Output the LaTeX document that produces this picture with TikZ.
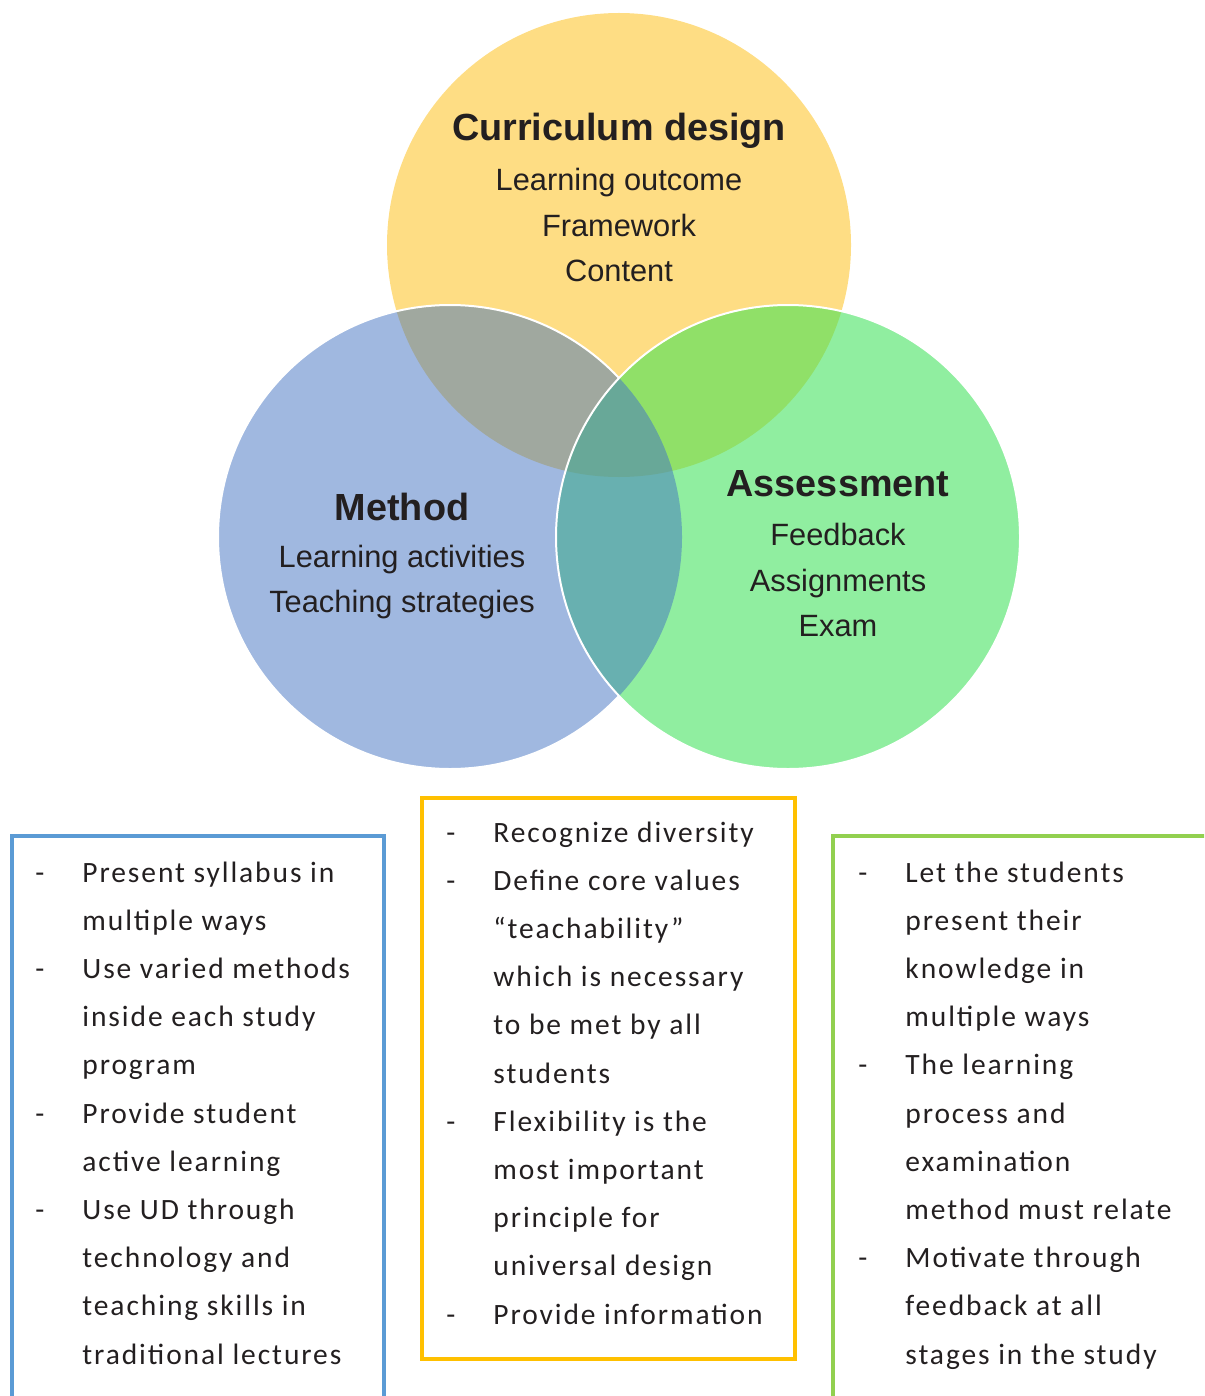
\documentclass[tikz,border=0pt]{standalone}
\usepackage{fontspec}
\setmainfont{Liberation Sans}
\newfontfamily\boxfont[LetterSpace=6.5]{Carlito}
\usetikzlibrary{positioning}
\definecolor{ink}{HTML}{231F20}
\definecolor{cyellow}{HTML}{FEDD84}
\definecolor{cblue}{HTML}{A0B8E0}
\definecolor{cgreen}{HTML}{90EEA0}
\definecolor{cgray}{HTML}{A0A89F}
\definecolor{clime}{HTML}{90E068}
\definecolor{cteal}{HTML}{68B0B0}
\definecolor{ccore}{HTML}{68A898}
\definecolor{fblue}{HTML}{5B9BD5}
\definecolor{fgold}{HTML}{FFC000}
\definecolor{fgreen}{HTML}{92D050}

\begin{document}
\begin{tikzpicture}[x=0.5pt, y=-0.5pt,
    every node/.style={text=ink},
    title/.style={font=\fontsize{18.9}{22}\selectfont\bfseries},
    body/.style={font=\fontsize{15.4}{22.75}\selectfont, align=center},
    list/.style={font=\boxfont\fontsize{14.75}{24.1}\selectfont, anchor=base west, inner sep=0pt},
    ring/.style={draw=white, line width=1pt},
    frame/.style={line width=2pt}]
	\clip (0,0) rectangle (1204,1396);
	\coordinate (cur) at (619,245);
	\coordinate (met) at (450,537);
	\coordinate (ass) at (788,537);

	% circles
	\fill[cyellow] (cur) circle[radius=116pt];
	\fill[cblue] (met) circle[radius=116pt];
	\begin{scope}
		\clip (cur) circle[radius=116pt];
		\fill[cgray] (met) circle[radius=116pt];
	\end{scope}
	\draw[ring] (met) circle[radius=116pt];
	\fill[cgreen] (ass) circle[radius=116pt];
	\begin{scope}
		\clip (cur) circle[radius=116pt];
		\fill[clime] (ass) circle[radius=116pt];
	\end{scope}
	\begin{scope}
		\clip (met) circle[radius=116pt];
		\fill[cteal] (ass) circle[radius=116pt];
		\clip (cur) circle[radius=116pt];
		\fill[ccore] (ass) circle[radius=116pt];
	\end{scope}
	\draw[ring] (ass) circle[radius=116pt];

	\node[title] (curtitle) at (619,131) {Curriculum design};
	\node[body] (curbody) at (619,225) {Learning outcome\\Framework\\Content};
	\node[title] (mettitle) at (402,507) {Method};
	\node[body] (metbody) at (402,582) {Learning activities\\Teaching strategies};
	\node[title] (asstitle) at (838,484) {Assessment};
	\node[body] (assbody) at (838,580) {Feedback\\Assignments\\Exam};

	% boxes
	\draw[frame, fblue] (12,1420) -- (12,836) -- (384,836) -- (384,1420);
	\draw[frame, fgold] (422,798) rectangle (795,1359);
	\draw[frame, fgreen] (833,1420) -- (833,836) -- (1230,836);

	\node[list] (metlist) at (35,882) {\begin{tabular}[t]{@{}p{23.5pt}@{}l@{}}
		- & Present syllabus in\\
		  & multiple ways\\
		- & Use varied methods\\
		  & inside each study\\
		  & program\\
		- & Provide student\\
		  & active learning\\
		- & Use UD through\\
		  & technology and\\
		  & teaching skills in\\
		  & traditional lectures
	\end{tabular}};
	\node[list] (curlist) at (446,842) {\begin{tabular}[t]{@{}p{23.5pt}@{}l@{}}
		- & Recognize diversity\\
		- & Define core values\\
		  & “teachability”\\
		  & which is necessary\\
		  & to be met by all\\
		  & students\\
		- & Flexibility is the\\
		  & most important\\
		  & principle for\\
		  & universal design\\
		- & Provide information
	\end{tabular}};
	\node[list] (asslist) at (858,882) {\begin{tabular}[t]{@{}p{23.5pt}@{}l@{}}
		- & Let the students\\
		  & present their\\
		  & knowledge in\\
		  & multiple ways\\
		- & The learning\\
		  & process and\\
		  & examination\\
		  & method must relate\\
		- & Motivate through\\
		  & feedback at all\\
		  & stages in the study
	\end{tabular}};
\end{tikzpicture}
\end{document}
